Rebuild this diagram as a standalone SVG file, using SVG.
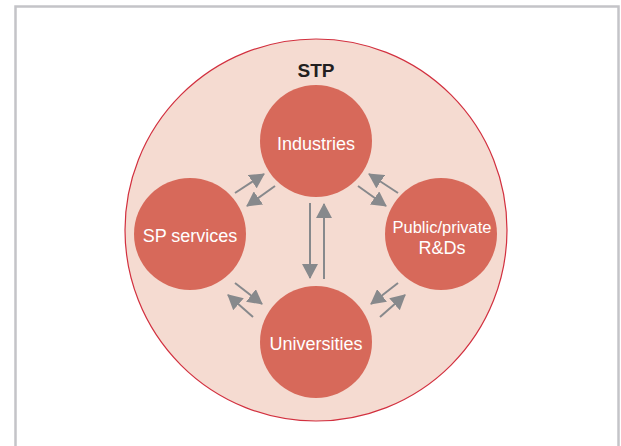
<svg xmlns="http://www.w3.org/2000/svg" width="621" height="446" viewBox="0 0 621 446">
<style>
.node{fill:#d7695a}
.lbl{font-family:"Liberation Sans",Arial,sans-serif;font-size:18px;fill:#ffffff;text-anchor:middle}
.ar{stroke:#87898c;stroke-width:2;fill:none;marker-end:url(#ah)}
</style>
<defs>
<marker id="ah" markerWidth="8" markerHeight="8" refX="7" refY="4" orient="auto" markerUnits="strokeWidth">
<path d="M0,0 L7.5,4 L0,8 Z" fill="#87898c"/>
</marker>
</defs>
<rect x="0" y="0" width="621" height="446" fill="#ffffff"/>
<rect x="15.5" y="6.5" width="603" height="450" fill="#ffffff" stroke="#c4c4c8" stroke-width="2.5"/>
<g id="stp">
<circle cx="316" cy="230" r="191" fill="#f5dbd1" stroke="#d2303f" stroke-width="1.2"/>
<text x="316" y="77" font-family="Liberation Sans,Arial,sans-serif" font-size="19" font-weight="bold" fill="#231f20" text-anchor="middle">STP</text>
</g>
<g id="industries">
<circle class="node" cx="316" cy="141" r="56"/>
<text class="lbl" x="316" y="150">Industries</text>
</g>
<g id="sp-services">
<circle class="node" cx="190" cy="234" r="56"/>
<text class="lbl" x="190" y="242">SP services</text>
</g>
<g id="public-private">
<circle class="node" cx="441" cy="234" r="56"/>
<text class="lbl" x="442" y="233" style="font-size:16.5px">Public/private</text>
<text class="lbl" x="442" y="254">R&amp;Ds</text>
</g>
<g id="universities">
<circle class="node" cx="316" cy="342" r="56"/>
<text class="lbl" x="316" y="350">Universities</text>
</g>
<g id="connectors">
<line class="ar" x1="310" y1="203" x2="310" y2="278"/>
<line class="ar" x1="324" y1="279" x2="324" y2="204"/>
<line class="ar" x1="235" y1="193" x2="264" y2="174"/>
<line class="ar" x1="275" y1="186" x2="247" y2="206"/>
<line class="ar" x1="398" y1="193" x2="369" y2="174"/>
<line class="ar" x1="358" y1="186" x2="386" y2="206"/>
<line class="ar" x1="235" y1="283" x2="262" y2="304"/>
<line class="ar" x1="253" y1="317" x2="228" y2="295"/>
<line class="ar" x1="398" y1="283" x2="371" y2="304"/>
<line class="ar" x1="380" y1="317" x2="405" y2="295"/>
</g>
</svg>
